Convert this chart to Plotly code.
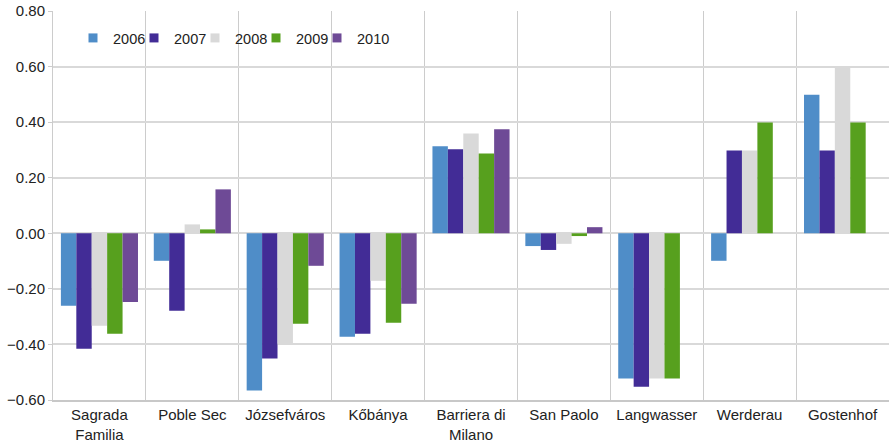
import plotly.graph_objects as go

categories = ["Sagrada<br>Familia", "Poble Sec", "Józsefváros", "Kőbánya",
              "Barriera di<br>Milano", "San Paolo", "Langwasser", "Werderau", "Gostenhof"]
years = ["2006", "2007", "2008", "2009", "2010"]
v2006 = [-0.261, -0.099, -0.566, -0.372, 0.313, -0.046, -0.523, -0.099, 0.499]
v2007 = [-0.416, -0.279, -0.451, -0.362, 0.302, -0.060, -0.552, 0.298, 0.298]
v2008 = [-0.333, 0.032, -0.400, -0.171, 0.359, -0.038, -0.523, 0.298, 0.599]
v2009 = [-0.362, 0.014, -0.326, -0.322, 0.287, -0.010, -0.523, 0.399, 0.399]
v2010 = [-0.247, 0.158, -0.117, -0.254, 0.374, 0.022, None, None, None]
colors = ["#4F8DC8", "#422C96", "#D9D9D9", "#57A01E", "#6E4A96"]

series = [v2006, v2007, v2008, v2009, v2010]

W, H = 889, 443
ML, MR, MT, MB = 53, 0, 11, 43
plot_w = W - ML - MR
plot_h = H - MT - MB
legend_fig_x = [73, 134, 195, 256, 317]
legend_fig_y = 38

font = "Liberation Sans, Arial, Helvetica, sans-serif"
fig = go.Figure()
layout_legends = {}
for i, (name, vals, col) in enumerate(zip(years, series, colors)):
    lname = "legend" if i == 0 else f"legend{i+1}"
    fig.add_trace(go.Bar(x=categories, y=vals, name=name, marker_color=col,
                         marker_line_width=0, showlegend=False))
    fig.add_trace(go.Scatter(x=[None], y=[None], mode="markers", name=name,
                             marker=dict(symbol="square", size=9, color=col),
                             legend=lname, showlegend=True))
    layout_legends[lname] = dict(
        x=(legend_fig_x[i] - ML) / plot_w,
        y=(H - MB - legend_fig_y) / plot_h,
        xanchor="left", yanchor="middle",
        orientation="h", bgcolor="rgba(0,0,0,0)",
        font=dict(family=font, size=14.5, color="#222222"), itemwidth=30)

fig.update_layout(
    width=W, height=H,
    margin=dict(l=ML, r=MR, t=MT, b=MB, autoexpand=False),
    paper_bgcolor="white", plot_bgcolor="white",
    barmode="group", bargap=0.17, bargroupgap=0,
    font=dict(family=font, size=15, color="#222222"),
    showlegend=True,
    **layout_legends,
)
fig.update_xaxes(type="category", tickson="boundaries", showgrid=True,
                 gridcolor="#cccccc", gridwidth=1, ticks="", showline=True,
                 linecolor="#c8c8c8", linewidth=2, tickfont=dict(size=15),
                 automargin=False, ticklabeloverflow="allow")
fig.update_yaxes(range=[-0.6, 0.8], dtick=0.2, tickformat=".2f", showgrid=True,
                 gridcolor="#d9d9d9", gridwidth=2, zeroline=True, zerolinecolor="#d9d9d9",
                 zerolinewidth=2, showline=True, linecolor="#cccccc", linewidth=1,
                 ticks="outside", ticklen=4, tickcolor="#cccccc", tickfont=dict(size=15),
                 automargin=False, ticklabeloverflow="allow")

fig.write_html("out.html",
               config={"displayModeBar": False},
               post_script="document.body.style.margin='0';document.body.style.overflow='hidden';")
